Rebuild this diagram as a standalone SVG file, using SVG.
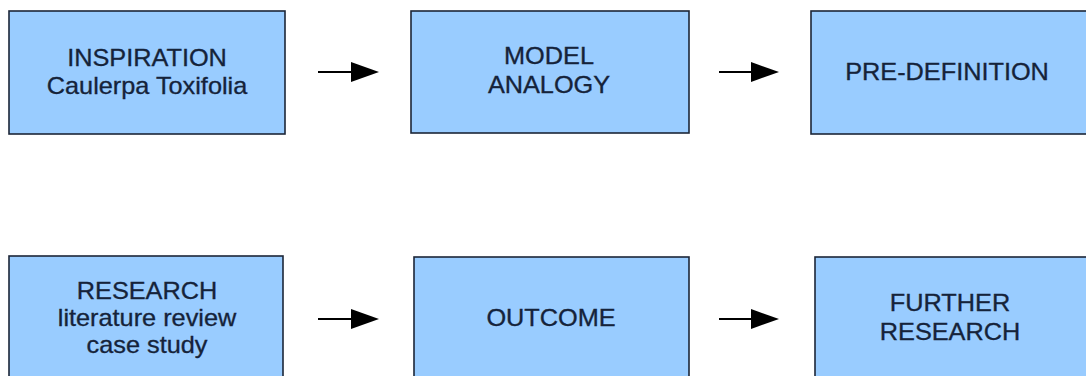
<svg xmlns="http://www.w3.org/2000/svg" width="1086" height="376" viewBox="0 0 1086 376">
  <style>
    .box { fill: #99ccff; stroke: #1c2638; stroke-width: 1.6; }
    .lbl { font-family: "Liberation Sans", Arial, sans-serif; font-size: 23px; fill: #15233a; stroke: #15233a; stroke-width: 0.3; text-anchor: middle; }
    .conn { stroke: #000; stroke-width: 2; fill: none; }
  </style>
  <defs>
    <marker id="head" markerUnits="userSpaceOnUse" markerWidth="30" markerHeight="22" refX="19" refY="10" orient="auto">
      <path d="M0,0 L28,10 L0,20 Z" fill="#000"/>
    </marker>
  </defs>

  <rect width="1086" height="376" fill="#ffffff"/>

  <!-- top row -->
  <g id="inspiration">
    <rect class="box" x="9" y="11" width="276" height="123"/>
    <g transform="translate(147,0) scale(1.1,1)">
      <text class="lbl" x="0" y="66.5">INSPIRATION</text>
      <text class="lbl" x="0" y="94">Caulerpa Toxifolia</text>
    </g>
  </g>

  <g id="model-analogy">
    <rect class="box" x="411" y="11" width="278" height="122"/>
    <g transform="translate(549,0) scale(1.1,1)">
      <text class="lbl" x="0" y="64">MODEL</text>
      <text class="lbl" x="0" y="93">ANALOGY</text>
    </g>
  </g>

  <g id="pre-definition">
    <rect class="box" x="811" y="11" width="278" height="123"/>
    <g transform="translate(947,0) scale(1.1,1)">
      <text class="lbl" x="0" y="80">PRE-DEFINITION</text>
    </g>
  </g>

  <!-- bottom row -->
  <g id="research">
    <rect class="box" x="9" y="256" width="274" height="130"/>
    <g transform="translate(147,0) scale(1.1,1)">
      <text class="lbl" x="0" y="299">RESEARCH</text>
      <text class="lbl" x="0" y="326">literature review</text>
      <text class="lbl" x="0" y="353">case study</text>
    </g>
  </g>

  <g id="outcome">
    <rect class="box" x="414" y="257" width="275" height="130"/>
    <g transform="translate(551,0) scale(1.1,1)">
      <text class="lbl" x="0" y="326">OUTCOME</text>
    </g>
  </g>

  <g id="further-research">
    <rect class="box" x="815" y="257" width="276" height="130"/>
    <g transform="translate(950,0) scale(1.1,1)">
      <text class="lbl" x="0" y="311">FURTHER</text>
      <text class="lbl" x="0" y="340">RESEARCH</text>
    </g>
  </g>

  <!-- connectors -->
  <g id="connectors">
    <line class="conn" x1="318" y1="72" x2="370" y2="72" marker-end="url(#head)"/>
    <line class="conn" x1="719" y1="72" x2="770" y2="72" marker-end="url(#head)"/>
    <line class="conn" x1="318" y1="319" x2="370" y2="319" marker-end="url(#head)"/>
    <line class="conn" x1="719" y1="319" x2="770" y2="319" marker-end="url(#head)"/>
  </g>
</svg>
